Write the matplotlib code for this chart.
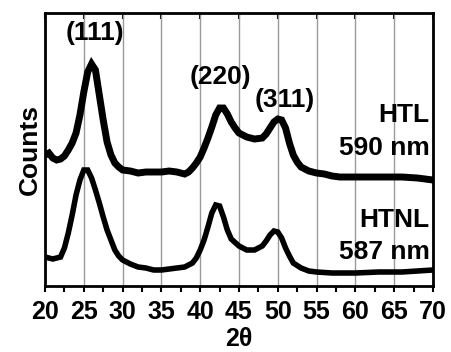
import matplotlib.pyplot as plt
from matplotlib.ticker import MultipleLocator

plt.rcParams['font.family'] = ['Liberation Sans', 'DejaVu Sans']
plt.rcParams['font.weight'] = 'bold'

# values (2theta, arbitrary counts)
two_theta_htl = [20, 20.5, 21, 21.5, 22, 22.5, 23, 23.5, 24, 24.5, 25, 25.5, 26, 26.5, 27, 27.5,
                 28, 28.5, 29, 29.5, 30, 31, 32, 33, 34, 35, 36, 37, 38, 38.5, 39, 39.5, 40,
                 40.5, 41, 41.5, 42, 42.5, 43, 43.5, 44, 44.5, 45, 46, 47, 48, 48.5, 49, 49.5,
                 50, 50.5, 51, 51.5, 52, 52.5, 53, 54, 55, 56, 57, 58, 60, 62, 64, 66, 68, 70]
counts_htl = [197, 199, 194, 192, 193, 196, 202, 209, 219, 237, 260, 280, 288, 282, 257, 232,
              210, 197, 189, 185, 182, 181, 179, 180, 180, 180, 181, 180, 178, 180, 184, 189, 195,
              204, 214, 225, 237, 244, 244, 238, 230, 224, 219, 215, 213, 214, 218, 224, 230,
              233, 232, 224, 209, 197, 190, 185, 181, 179, 178, 176, 175, 175, 175, 175, 175, 174, 172]

two_theta_htnl = [20, 21, 22, 22.5, 23, 23.5, 24, 24.5, 25, 25.5, 26, 26.5, 27, 27.5, 28, 28.5,
                  29, 29.5, 30, 31, 32, 33, 34, 35, 36, 37, 38, 39, 39.5, 40, 40.5, 41, 41.5,
                  42, 42.5, 43, 43.5, 44, 45, 46, 47, 48, 48.5, 49, 49.5, 50, 50.5, 51, 51.5,
                  52, 53, 54, 55, 57, 60, 63, 66, 68, 70]
counts_htnl = [95, 93, 95, 104, 119, 137, 157, 172, 182, 182, 174, 162, 149, 135, 122, 112,
               102, 96, 92, 88, 85, 84, 82, 82, 83, 84, 85, 89, 94, 102, 112, 125, 139,
               147, 146, 135, 122, 113, 106, 102, 102, 106, 111, 117, 121, 120, 114, 104, 96,
               89, 84, 81, 80, 79, 79, 80, 80, 81, 82]

peak_labels = ['(111)', '(220)', '(311)']
peak_pos = [26.4, 42.6, 50.9]
peak_text_y = [319, 275, 252]

fig = plt.figure(figsize=(4.51, 3.52), dpi=100)
ax = fig.add_axes([0.0998, 0.1875, 0.8602, 0.7755])

ax.plot(two_theta_htl, counts_htl, color='black', lw=5, solid_joinstyle='miter')
ax.plot(two_theta_htnl, counts_htnl, color='black', lw=4, solid_joinstyle='miter')

ax.set_xlim(20, 70)
ax.set_ylim(66, 339)
ax.xaxis.set_major_locator(MultipleLocator(5))
ax.xaxis.set_minor_locator(MultipleLocator(2.5))
ax.grid(axis='x', color='#999999', lw=1)
ax.set_axisbelow(True)
ax.set_yticks([])
ax.tick_params(axis='x', which='both', direction='out', length=4, width=1.5,
               labelsize=18, pad=6)
for s in ax.spines.values():
    s.set_linewidth(2)

top = ax.secondary_xaxis('top')
top.xaxis.set_major_locator(MultipleLocator(5))
top.tick_params(direction='in', length=4, width=1.5, labeltop=False)

ax.set_xlabel('2θ', fontsize=18, fontweight='bold', labelpad=2)
ax.set_ylabel('Counts', fontsize=19, fontweight='bold', labelpad=2)

for lab, px, py in zip(peak_labels, peak_pos, peak_text_y):
    ax.text(px, py, lab, fontsize=19, fontweight='bold', ha='center', va='center')

ax.text(69.6, 237, 'HTL', fontsize=19, fontweight='bold', ha='right', va='center')
ax.text(69.6, 204, '590 nm', fontsize=19, fontweight='bold', ha='right', va='center')
ax.text(69.6, 132, 'HTNL', fontsize=19, fontweight='bold', ha='right', va='center')
ax.text(69.6, 100, '587 nm', fontsize=19, fontweight='bold', ha='right', va='center')

fig.savefig('out.png', dpi=100)
